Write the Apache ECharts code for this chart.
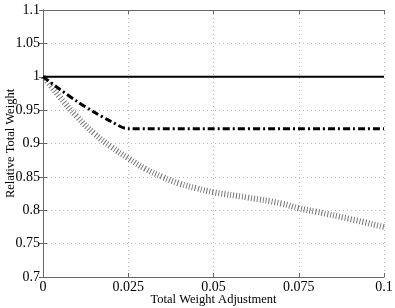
<!DOCTYPE html>
<html><head><meta charset="utf-8">
<script src="https://cdn.jsdelivr.net/npm/echarts@6/dist/echarts.min.js"></script>
<style>html,body{margin:0;padding:0;background:#fff}#c{width:395px;height:308px}</style>
</head><body><div id="c"></div>
<script>
var xTicks = [0, 0.025, 0.05, 0.075, 0.1];
var yTicks = [0.7, 0.75, 0.8, 0.85, 0.9, 0.95, 1, 1.05, 1.1];
var solidX = [0, 0.1];
var solidY = [1, 1];
var dashX = [0, 0.005, 0.01, 0.015, 0.02, 0.025, 0.1];
var dashY = [1.0, 0.981, 0.963, 0.947, 0.933, 0.922, 0.922];
var hatchX = [0, 0.0025, 0.005, 0.01, 0.015, 0.02, 0.025, 0.03, 0.035, 0.04, 0.045, 0.05, 0.06, 0.07, 0.075, 0.08, 0.09, 0.1];
var hatchY = [1.0, 0.985, 0.969, 0.94, 0.915, 0.895, 0.878, 0.862, 0.85, 0.84, 0.833, 0.827, 0.819, 0.81, 0.803, 0.798, 0.787, 0.775];

function zip(a, b) { return a.map(function (v, i) { return [v, b[i]]; }); }
var font = 'Liberation Serif';
var fmt = function (v) { return String(parseFloat(v.toFixed(4))); };
var chart = echarts.init(document.getElementById('c'));
chart.setOption({
  animation: false,
  backgroundColor: '#fff',
  grid: { left: 43, right: 11, top: 10, bottom: 31, containLabel: false, outerBoundsMode: 'none' },
  xAxis: [{
    type: 'value', min: 0, max: 0.1, interval: 0.025,
    name: 'Total Weight Adjustment', nameLocation: 'middle', nameGap: 16, nameMoveOverlap: false,
    nameTextStyle: { fontFamily: font, fontSize: 12.5, color: '#000' },
    axisLine: { lineStyle: { color: '#666' } },
    axisTick: { inside: true, length: 4, lineStyle: { color: '#666' } },
    axisLabel: { fontFamily: font, fontSize: 14, color: '#000', margin: 3, formatter: fmt },
    splitLine: { show: true, lineStyle: { color: '#bbb', type: [1, 3] } }
  }, {
    type: 'value', min: 0, max: 0.1, interval: 0.025, position: 'top',
    axisLine: { show: true, lineStyle: { color: '#666' } },
    axisTick: { inside: true, length: 4, lineStyle: { color: '#666' } },
    axisLabel: { show: false }, splitLine: { show: false }
  }],
  yAxis: [{
    type: 'value', min: 0.7, max: 1.1, interval: 0.05,
    name: 'Relative Total Weight', nameLocation: 'middle', nameGap: 26, nameMoveOverlap: false,
    nameTextStyle: { fontFamily: font, fontSize: 12.5, color: '#000' },
    axisLine: { show: true, lineStyle: { color: '#666' } },
    axisTick: { show: true, inside: true, length: 4, lineStyle: { color: '#666' } },
    axisLabel: { fontFamily: font, fontSize: 14, color: '#000', margin: 3, formatter: fmt },
    splitLine: { show: true, lineStyle: { color: '#bbb', type: [1, 3] } }
  }, {
    type: 'value', min: 0.7, max: 1.1, interval: 0.05, position: 'right',
    axisLine: { show: true, lineStyle: { color: '#666' } },
    axisTick: { show: true, inside: true, length: 4, lineStyle: { color: '#666' } },
    axisLabel: { show: false }, splitLine: { show: false }
  }],
  series: [{
    type: 'line', data: zip(hatchX, hatchY), smooth: true, symbol: 'none',
    lineStyle: { color: '#777', width: 6, type: [1, 2] }
  }, {
    type: 'line', data: zip(dashX, dashY), smooth: 0.3, symbol: 'none',
    lineStyle: { color: '#000', width: 3, type: [7, 3, 2, 3] }
  }, {
    type: 'line', data: zip(solidX, solidY), symbol: 'none',
    lineStyle: { color: '#000', width: 2 }
  }]
});
</script></body></html>
